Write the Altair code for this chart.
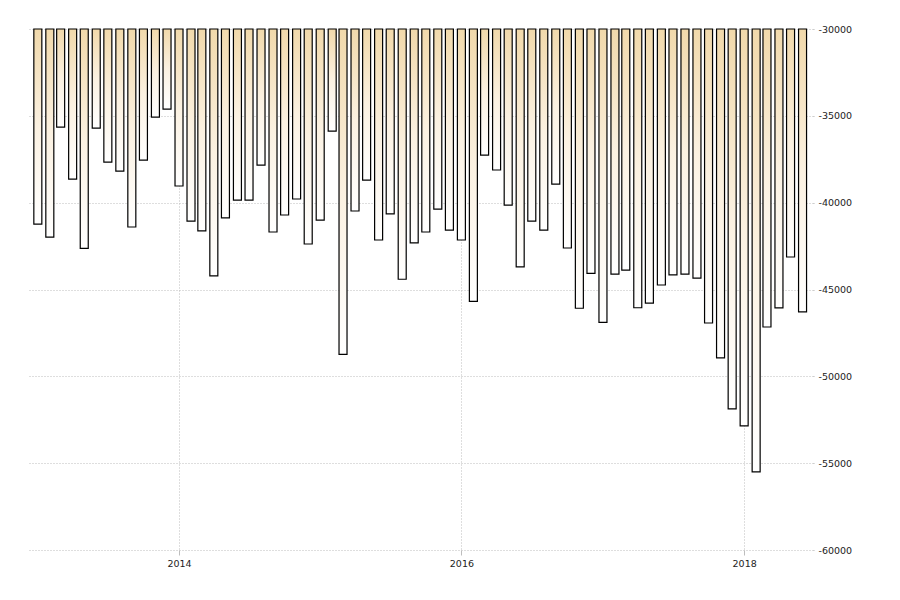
import altair as alt
import pandas as pd

months = [d.strftime("%Y-%m-%d") for d in pd.date_range("2013-01-01", "2018-06-01", freq="MS")]
values = [
    -41230, -41980, -35650, -38640, -42630, -35710, -37660, -38180, -41400, -37550, -35070, -34610,
    -39040, -41060, -41630, -44220, -40880, -39850, -39850, -37840, -41690, -40710, -39790, -42380,
    -41000, -35880, -48730, -40480, -38700, -42150, -40650, -44410, -42320, -41690, -40370, -41580,
    -42150, -45680, -37260, -38120, -40140, -43700, -41060, -41580, -38930, -42610, -46080, -44070,
    -46890, -44120, -43880, -46050, -45780, -44740, -44160, -44110, -44340, -46930, -48940, -51870,
    -52850, -55500, -47160, -46060, -43130, -46290,
]
base_value = -30000
y_ticks = [-30000, -35000, -40000, -45000, -50000, -55000, -60000]
x_tick_years = [2014, 2016, 2018]

df = pd.DataFrame({"date": months, "value": values, "base": [base_value] * len(values)})

grad = alt.Gradient(
    gradient="linear",
    stops=[alt.GradientStop(color="#f1d9ab", offset=0),
           alt.GradientStop(color="#fbf1e1", offset=0.5),
           alt.GradientStop(color="#ffffff", offset=1)],
    x1=1, x2=1, y1=0, y2=1,
)

chart = alt.Chart(df).mark_bar(
    color=grad, stroke="#000000", strokeWidth=1.2, width=8
).encode(
    x=alt.X(
        "date:T",
        scale=alt.Scale(
            type="utc", padding=0,
            domain=[alt.DateTime(year=2012, month=12, date=4, utc=True),
                    alt.DateTime(year=2018, month=6, date=28, utc=True)],
        ),
        axis=alt.Axis(
            title=None,
            values=[alt.DateTime(year=y, month=1, date=1, utc=True) for y in x_tick_years],
            format="%Y",
            grid=True, gridDash=[1, 2], gridColor="#bdbdbd", gridWidth=1,
            domain=False, ticks=True, tickColor="#bdbdbd", tickSize=5,
            labelFont="DejaVu Sans", labelFontSize=9.5, labelColor="#222222",
            labelPadding=3,
        ),
    ),
    y=alt.Y(
        "value:Q",
        scale=alt.Scale(domain=[-60000, -30000], nice=False, zero=False),
        axis=alt.Axis(
            title=None, orient="right", values=y_ticks,
            labelExpr="'' + datum.value",
            grid=True, gridDash=[1, 2], gridColor="#bdbdbd", gridWidth=1,
            domain=False, ticks=True, tickColor="#bdbdbd", tickDash=[1, 2], tickSize=3,
            labelFont="DejaVu Sans", labelFontSize=9.5, labelColor="#222222",
            labelPadding=2,
        ),
    ),
    y2="base:Q",
).properties(
    width=786, height=521,
    autosize=alt.AutoSizeParams(type="none"),
    padding={"left": 27, "top": 29, "right": 87, "bottom": 50},
).configure_view(stroke=None)

chart.save("out.html", embed_options={"renderer": "svg", "actions": False})
